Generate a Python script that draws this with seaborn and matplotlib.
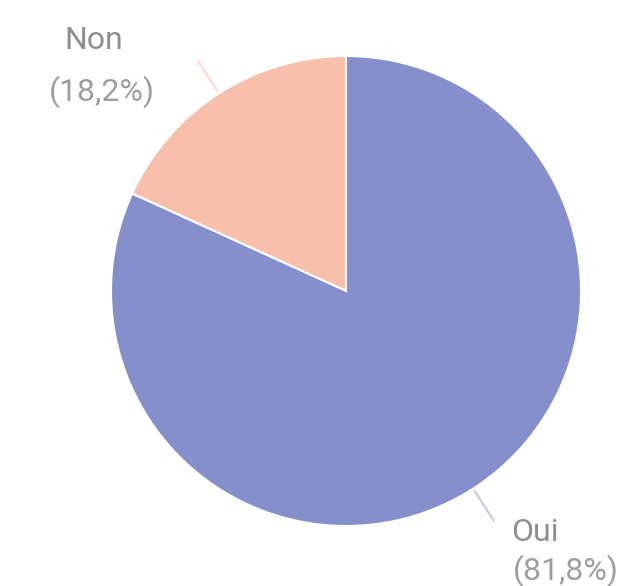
import numpy as np
import matplotlib
matplotlib.use("Agg")
import matplotlib.pyplot as plt
import seaborn as sns

# data
labels = ["Non", "Oui"]
values = [18.2, 81.8]
pct_text = ["(18,2%)", "(81,8%)"]
colors = ["#f8bfab", "#848fcc"]
line_colors = ["#fbd9cc", "#c3c8e8"]

sns.set_theme(style="white")
plt.rcParams['font.family'] = ['Roboto', 'DejaVu Sans']

fig = plt.figure(figsize=(6.36, 5.86), dpi=100)
ax = fig.add_axes([0, 0, 1, 1])

cx, cy, r = 346, 295, 235
wedges, _ = ax.pie(values, colors=colors, startangle=90, counterclock=True,
                   center=(cx, cy), radius=r, frame=True,
                   wedgeprops=dict(edgecolor="white", linewidth=1.5))
ax.set_xlim(0, 636)
ax.set_ylim(0, 586)
ax.axis("off")

# leader lines + labels
name_off = [(-105, 21), (41, -12)]
pct_off = [(-96, -30), (72, -50)]
for w, lab, pct, lc, no, po in zip(wedges, labels, pct_text, line_colors, name_off, pct_off):
    ang = np.deg2rad((w.theta1 + w.theta2) / 2)
    x0, y0 = cx + (r + 3) * np.cos(ang), cy + (r + 3) * np.sin(ang)
    x1, y1 = cx + (r + 38) * np.cos(ang), cy + (r + 38) * np.sin(ang)
    ax.plot([x0, x1], [y0, y1], color=lc, lw=1.5)
    ax.text(x1 + no[0], y1 + no[1], lab, ha="center", va="center",
            fontsize=23, color="#8f8f8f")
    ax.text(x1 + po[0], y1 + po[1], pct, ha="center", va="center",
            fontsize=23, color="#9e9e9e")

fig.savefig("out.png", dpi=100)
